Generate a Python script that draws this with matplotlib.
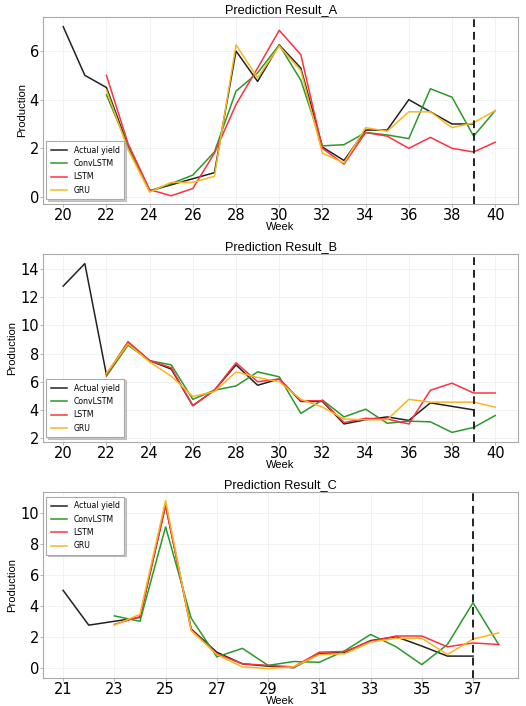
import numpy as np
import matplotlib
matplotlib.use("Agg")
import matplotlib.pyplot as plt

# ---- data ----
weeks_a = list(range(20, 41))
actual_a = [7.0, 5.0, 4.5, 2.1, 0.25, 0.5, 0.75, 1.0, 6.0, 4.75, 6.25, 5.3, 2.05, 1.5, 2.75, 2.75, 4.0, 3.5, 3.0, 3.0]
conv_a = [4.2, 2.1, 0.25, 0.55, 0.9, 1.85, 4.35, 5.1, 6.25, 4.8, 2.1, 2.15, 2.65, 2.55, 2.4, 4.45, 4.1, 2.5, 3.55]
lstm_a = [5.0, 2.2, 0.3, 0.05, 0.35, 1.8, 3.8, 5.3, 6.85, 5.85, 2.0, 1.35, 2.65, 2.5, 2.0, 2.45, 2.0, 1.85, 2.25]
gru_a = [4.4, 1.95, 0.2, 0.6, 0.6, 0.85, 6.25, 4.9, 6.2, 5.2, 1.8, 1.4, 2.85, 2.7, 3.5, 3.5, 2.85, 3.05, 3.55]

weeks_b = list(range(20, 41))
actual_b = [12.8, 14.4, 6.5, 8.8, 7.5, 6.9, 4.3, 5.4, 7.2, 5.75, 6.2, 4.6, 4.6, 3.0, 3.3, 3.5, 3.25, 4.5, 4.25, 4.0]
conv_b = [6.4, 8.6, 7.5, 7.2, 4.75, 5.4, 5.7, 6.7, 6.35, 3.75, 4.7, 3.5, 4.05, 3.05, 3.2, 3.15, 2.4, 2.75, 3.6]
lstm_b = [6.5, 8.85, 7.5, 7.0, 4.3, 5.4, 7.35, 6.0, 6.2, 4.65, 4.65, 3.1, 3.4, 3.35, 3.0, 5.4, 5.9, 5.2, 5.2]
gru_b = [6.6, 8.7, 7.4, 6.4, 4.95, 5.3, 6.7, 6.3, 6.0, 4.75, 4.2, 3.35, 3.3, 3.3, 4.75, 4.55, 4.55, 4.55, 4.2]

weeks_c = list(range(21, 39))
actual_c = [5.0, 2.75, 3.0, 3.25, 10.5, 2.5, 1.0, 0.25, 0.1, 0.0, 0.9, 1.0, 1.75, 2.0, 1.4, 0.75, 0.75]
conv_c = [3.35, 3.0, 9.1, 3.2, 0.7, 1.25, 0.15, 0.4, 0.35, 1.1, 2.15, 1.35, 0.2, 1.5, 4.2, 1.5]
lstm_c = [2.8, 3.3, 10.5, 2.45, 0.9, 0.25, 0.15, 0.05, 1.0, 1.05, 1.7, 2.05, 2.05, 1.35, 1.6, 1.5]
gru_c = [2.75, 3.45, 10.8, 2.4, 0.85, 0.05, -0.05, 0.05, 0.85, 0.9, 1.65, 1.9, 1.9, 0.85, 1.85, 2.25]

cut_a, cut_b, cut_c = 39, 39, 37

colors = {"Actual yield": "#222222", "ConvLSTM": "#2a9a2a", "LSTM": "#ff3040", "GRU": "#f8b720"}
label_font = "Liberation Sans"


def draw(ax, weeks, actual, conv, lstm, gru, cut, title, legend_loc, anchor):
    ax.plot(weeks[:len(actual)], actual, color=colors["Actual yield"], lw=1.1, label="Actual yield")
    start = len(weeks) - len(conv)
    ax.plot(weeks[start:], conv, color=colors["ConvLSTM"], lw=1.1, label="ConvLSTM")
    ax.plot(weeks[start:], lstm, color=colors["LSTM"], lw=1.1, label="LSTM")
    ax.plot(weeks[start:], gru, color=colors["GRU"], lw=1.1, label="GRU")
    ax.axvline(cut, color="#222222", ls="--", lw=1.4, dashes=(4, 2.5))
    ax.set_title(title, fontsize=9.2, pad=3, family=label_font)
    ax.set_xlabel("Week", fontsize=8, labelpad=-1, family=label_font)
    ax.set_ylabel("Production", fontsize=8.1, labelpad=2, family=label_font)
    ax.tick_params(labelsize=10.5, length=2, width=0.6, color="#aaaaaa", pad=1)
    ax.grid(True, color="#f0f0f0", lw=0.6)
    for s in ax.spines.values():
        s.set_color("#aaaaaa")
        s.set_linewidth(0.8)
    leg = ax.legend(loc=legend_loc, bbox_to_anchor=anchor, fontsize=5.6, frameon=True,
                    shadow={"ox": 1, "oy": -1, "color": "#999999"}, fancybox=False,
                    edgecolor="#aaaaaa", handlelength=2.1, borderpad=0.6, labelspacing=0.55,
                    borderaxespad=0)
    leg.get_frame().set_linewidth(0.8)


fig = plt.figure(figsize=(5.26, 7.06), dpi=100)
ax_a = fig.add_axes([0.082, 0.711, 0.903, 0.265])
ax_b = fig.add_axes([0.082, 0.374, 0.903, 0.266])
ax_c = fig.add_axes([0.082, 0.040, 0.903, 0.263])

draw(ax_a, weeks_a, actual_a, conv_a, lstm_a, gru_a, cut_a, "Prediction Result_A", "lower left", (0.007, 0.025))
ax_a.set_xlim(19.07, 41.06)
ax_a.set_ylim(-0.29, 7.4)
ax_a.set_xticks(range(20, 41, 2))
ax_a.set_yticks([0, 2, 4, 6])

draw(ax_b, weeks_b, actual_b, conv_b, lstm_b, gru_b, cut_b, "Prediction Result_B", "lower left", (0.007, 0.025))
ax_b.set_xlim(19.07, 41.06)
ax_b.set_ylim(1.72, 15.07)
ax_b.set_xticks(range(20, 41, 2))
ax_b.set_yticks(range(2, 15, 2))

draw(ax_c, weeks_c, actual_c, conv_c, lstm_c, gru_c, cut_c, "Prediction Result_C", "upper left", (0.007, 0.975))
ax_c.set_xlim(20.22, 38.76)
ax_c.set_ylim(-0.65, 11.35)
ax_c.set_xticks(range(21, 38, 2))
ax_c.set_yticks([0, 2, 4, 6, 8, 10])

fig.savefig("out.png", dpi=100)
